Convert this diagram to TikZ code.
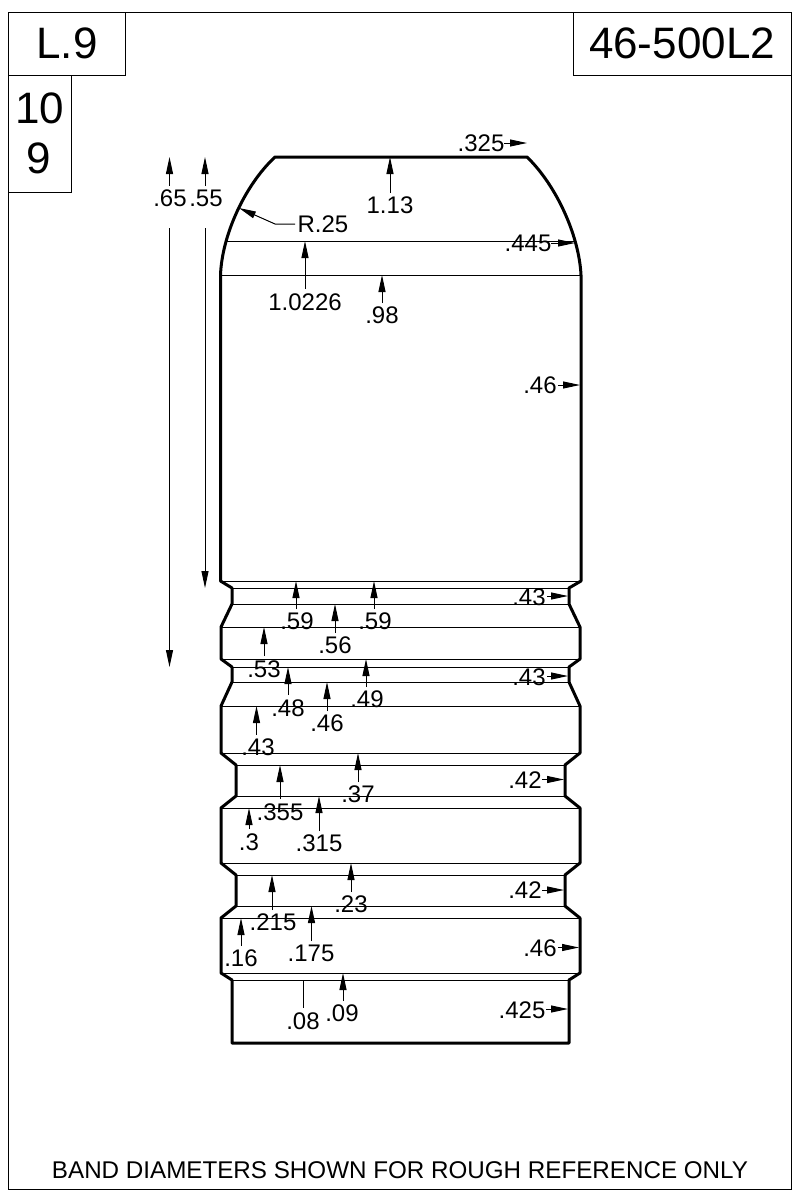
\documentclass[tikz,border=0pt]{standalone}
\usepackage{fontspec}
\setmainfont{Liberation Sans}
\usetikzlibrary{arrows.meta}
\tikzset{
  x=1pt,y=-1pt,
  frame/.style={draw=black,line width=1pt},
  body/.style={draw=black,line width=3pt,line join=round},
  band/.style={draw=black,line width=1pt},
  dim/.style={draw=black,line width=1pt,-{Triangle[length=17pt,width=7pt]}},
  lead/.style={draw=black,line width=1pt},
  lab/.style={font=\fontsize{24}{24}\selectfont,inner sep=0pt,text=black},
  big/.style={font=\fontsize{44}{44}\selectfont,inner sep=0pt,text=black},
  foot/.style={font=\fontsize{24.2}{24.2}\selectfont,inner sep=0pt,text=black}
}
% vertical dimension: name, x, tip y, tail y, text, label x, label y
\newcommand{\vdimen}[7]{%
  \node[lab] (#1) at (#6,#7) {#5};
  \coordinate (#1t) at (#2,#3);
  \coordinate (#1b) at (#2,#4);
  \draw[dim] (#1b) -- (#1t);
}
% horizontal dimension: name, y, tip x, tail x, text, label x, label y
\newcommand{\hdimen}[7]{%
  \node[lab] (#1) at (#6,#7) {#5};
  \coordinate (#1t) at (#3,#2);
  \coordinate (#1b) at (#4,#2);
  \draw[dim] (#1b) -- (#1t);
}
\begin{document}
\begin{tikzpicture}
\useasboundingbox (0,0) rectangle (800,1200);
\fill[white] (0,0) rectangle (800,1200);
% frames
\draw[frame] (8.5,12.5) rectangle (791.5,1189.5);
\draw[frame] (8.5,12.5) rectangle (125.5,75.5);
\draw[frame] (573.5,12.5) rectangle (791.5,75.5);
\draw[frame] (8.5,75.5) rectangle (71.5,192.5);
\node[big] (tl) at (67,43) {L.9};
\node[big] (tr) at (682,43) {46-500L2};
\node[big] (n1) at (40,108) {10};
\node[big] (n2) at (39,158) {9};
% band lines
\draw[band] (226,241) -- (575,241);
\draw[band] (220,275) -- (581,275);
\draw[band] (220,581) -- (581,581);
\draw[band] (232,588) -- (569,588);
\draw[band] (232,604) -- (569,604);
\draw[band] (221,627) -- (580,627);
\draw[band] (221,659) -- (580,659);
\draw[band] (232,667) -- (569,667);
\draw[band] (232,682) -- (569,682);
\draw[band] (221,706) -- (580,706);
\draw[band] (221,753) -- (580,753);
\draw[band] (236,765) -- (565,765);
\draw[band] (236,796) -- (565,796);
\draw[band] (221,808) -- (580,808);
\draw[band] (221,863) -- (580,863);
\draw[band] (236,875) -- (565,875);
\draw[band] (236,906) -- (565,906);
\draw[band] (221,918) -- (580,918);
\draw[band] (221,973) -- (580,973);
\draw[band] (232,980) -- (569,980);
% outline
\draw[body] (220.5,275) .. controls (222,235) and (245,185) .. (275,157)
  -- (527,157) .. controls (556,185) and (579,235) .. (581,275);
\draw[body] (220.5,275) -- (220.5,581) -- (232,588) -- (232,604) -- (221,627) -- (221,659) -- (232,667) -- (232,682) -- (221,706) -- (221,753) -- (236,765) -- (236,796) -- (221,808) -- (221,863) -- (236,875) -- (236,906) -- (221,918) -- (221,973) -- (232,980) -- (232,1043)
  -- (569,1043) -- (569,980) -- (580,973) -- (580,918) -- (565,906) -- (565,875) -- (580,863) -- (580,808) -- (565,796) -- (565,765) -- (580,753) -- (580,706) -- (569,682) -- (569,667) -- (580,659) -- (580,627) -- (569,604) -- (569,588) -- (581,581) -- (581,275);
% long dimensions
\vdimen{d65}{169.5}{157}{186}{.65}{170}{198}
\vdimen{d55}{205}{157}{186}{.55}{206}{198}
\coordinate (d65s) at (169.5,228);
\coordinate (d65e) at (169.5,667);
\draw[dim] (d65s) -- (d65e);
\coordinate (d55s) at (205,228);
\coordinate (d55e) at (205,588);
\draw[dim] (d55s) -- (d55e);
% top
\vdimen{a}{390}{157}{193}{1.13}{390}{205}
\vdimen{b}{305}{241}{289}{1.0226}{305}{302}
\vdimen{c}{382}{275}{303}{.98}{382}{315}
% R.25
\node[lab] (r) at (323,224) {R.25};
\coordinate (ra) at (239,208);
\coordinate (rb) at (275,224);
\coordinate (rc) at (295,224);
\draw[dim] (rc) -- (rb) -- (ra);
% vertical dims
\vdimen{e}{296}{581}{609}{.59}{297}{621}
\vdimen{f}{374}{581}{609}{.59}{375}{621}
\vdimen{g}{335}{604}{633}{.56}{335}{645}
\vdimen{h}{264}{627}{656}{.53}{264}{669}
\vdimen{i}{366}{659}{687}{.49}{367}{699}
\vdimen{j}{288}{667}{695}{.48}{288}{708}
\vdimen{k}{327}{682}{711}{.46}{327}{723}
\vdimen{l}{256.5}{706}{735}{.43}{258}{747}
\vdimen{m}{358}{753}{782}{.37}{358}{794}
\vdimen{n}{280}{765}{799}{.355}{280}{812}
\vdimen{o}{319}{796}{831}{.315}{319}{843}
\vdimen{p}{249}{808}{829}{.3}{249}{842}
\vdimen{q}{351}{863}{892}{.23}{351}{904}
\vdimen{s}{272}{875}{910}{.215}{273}{922}
\vdimen{u}{311.5}{906}{941}{.175}{311}{953}
\vdimen{v}{241}{918}{946}{.16}{241}{958}
\vdimen{w}{343}{973}{1001}{.09}{342}{1013}
\node[lab] (x08) at (303,1021) {.08};
\coordinate (x08a) at (303,980);
\coordinate (x08b) at (303,1008);
\draw[lead] (x08a) -- (x08b);
% horizontal dims
\hdimen{h1}{143}{527}{504}{.325}{481}{143}
\hdimen{h2}{243}{575}{551}{.445}{528}{243}
\hdimen{h3}{385}{580}{558}{.46}{540}{385}
\hdimen{h4}{596}{568}{547}{.43}{529}{597}
\hdimen{h5}{676}{568}{547}{.43}{529}{677}
\hdimen{h6}{779.5}{564}{542}{.42}{525}{780}
\hdimen{h7}{890}{564}{542}{.42}{525}{890}
\hdimen{h8}{947.5}{579}{558}{.46}{540}{948}
\hdimen{h9}{1009}{568}{546}{.425}{522}{1010}
% footer
\node[foot] (ft) at (400,1170) {BAND DIAMETERS SHOWN FOR ROUGH REFERENCE ONLY};
\end{tikzpicture}
\end{document}
